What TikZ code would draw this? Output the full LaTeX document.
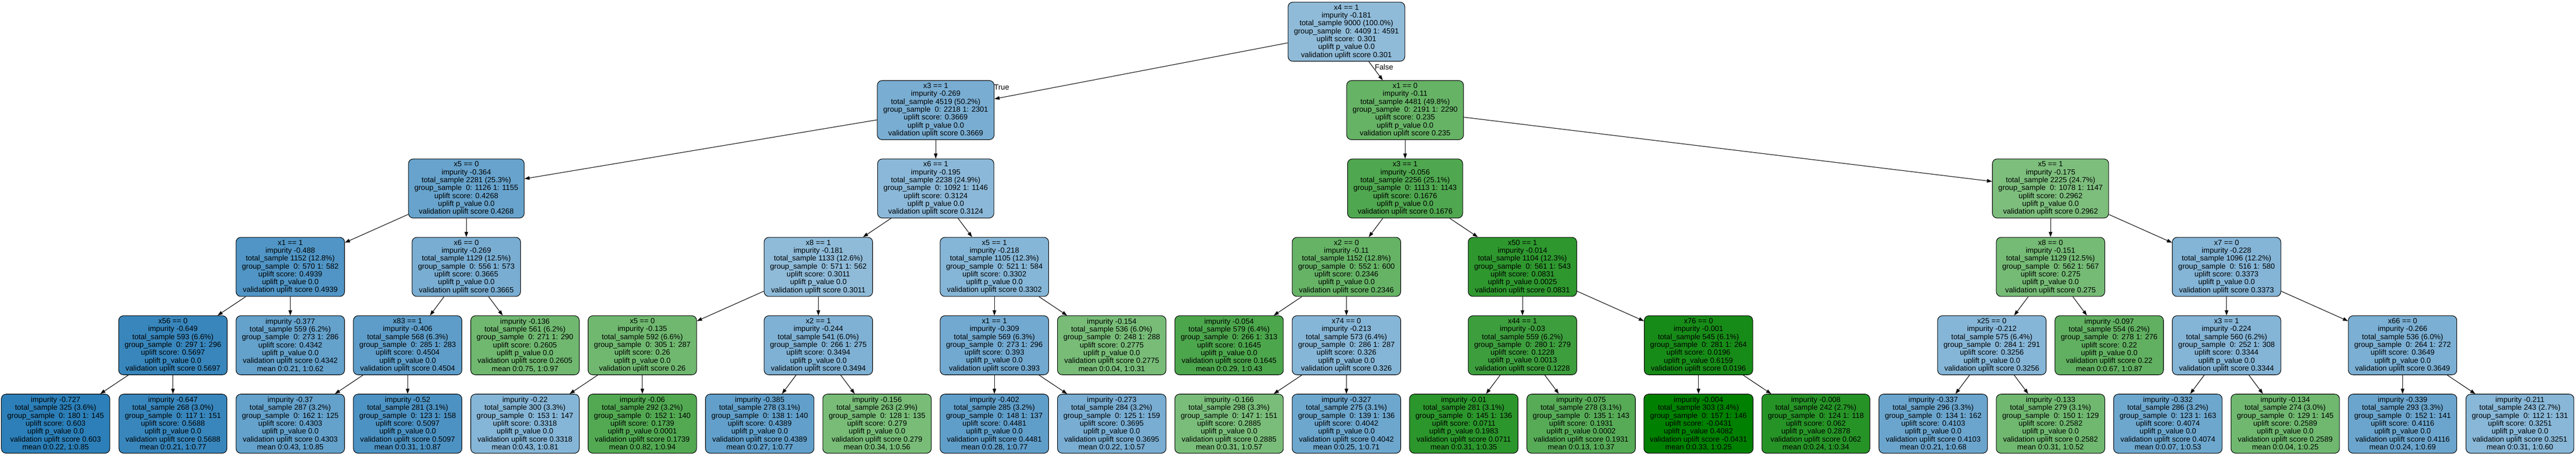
\documentclass[tikz,border=0pt]{standalone}
\usepackage{fontspec}
\setmainfont{Liberation Sans}
\usetikzlibrary{arrows.meta}
\definecolor{upblue}{HTML}{1F77B4}
\definecolor{upgreen}{HTML}{008000}
\tikzset{tnode/.style={draw, rounded corners=1.2mm, align=center, minimum width=27mm, minimum height=15mm, inner xsep=1.5mm, inner ysep=0.5mm, line width=0.4pt, font=\fontsize{5.4}{5.69}\selectfont}}
\tikzset{bl/.style={tnode, fill=upblue!#1}, gr/.style={tnode, fill=upgreen!#1}}
\tikzset{link/.style={-{Triangle[length=1.3mm,width=0.9mm]}, line width=0.4pt}}
\tikzset{lbl/.style={inner sep=0pt, font=\fontsize{5.4}{5.69}\selectfont}}
\newcommand{\splitlbl}[7]{#1\\impurity #2\\total\_sample #3\\group\_sample\ \ 0: #4 1: #5\\uplift score: #6\\uplift p\_value #7\\validation uplift score #6}
\newcommand{\leaflbl}[7]{impurity #1\\total\_sample #2\\group\_sample\ \ 0: #3 1: #4\\uplift score: #5\\uplift p\_value #6\\validation uplift score #5\\mean #7}
\begin{document}
\begin{tikzpicture}[x=29.76mm, y=-19.9mm]
\useasboundingbox (-0.4738,-0.4045) rectangle (21.478,5.3995);

% level 0 and 1
\node[bl=50] (root) at (11,0) {\splitlbl{x4 == 1}{-0.181}{9000 (100.0\%)}{4409}{4591}{0.301}{0.0}};
\node[bl=60] (nL) at (7.5,1) {\splitlbl{x3 == 1}{-0.269}{4519 (50.2\%)}{2218}{2301}{0.3669}{0.0}};
\node[gr=60] (nR) at (11.5,1) {\splitlbl{x1 == 0}{-0.11}{4481 (49.8\%)}{2191}{2290}{0.235}{0.0}};

% level 2
\node[bl=68] (nLL) at (3.5,2) {\splitlbl{x5 == 0}{-0.364}{2281 (25.3\%)}{1126}{1155}{0.4268}{0.0}};
\node[bl=52] (nLR) at (7.5,2) {\splitlbl{x6 == 1}{-0.195}{2238 (24.9\%)}{1092}{1146}{0.3124}{0.0}};
\node[gr=69] (nRL) at (11.5,2) {\splitlbl{x3 == 1}{-0.056}{2256 (25.1\%)}{1113}{1143}{0.1676}{0.0}};
\node[gr=51] (nRR) at (17,2) {\splitlbl{x5 == 1}{-0.175}{2225 (24.7\%)}{1078}{1147}{0.2962}{0.0}};

% level 3
\node[bl=78] (nLLL) at (2,3) {\splitlbl{x1 == 1}{-0.488}{1152 (12.8\%)}{570}{582}{0.4939}{0.0}};
\node[bl=60] (nLLR) at (3.5,3) {\splitlbl{x6 == 0}{-0.269}{1129 (12.5\%)}{556}{573}{0.3665}{0.0}};
\node[bl=50] (nLRL) at (6.5,3) {\splitlbl{x8 == 1}{-0.181}{1133 (12.6\%)}{571}{562}{0.3011}{0.0}};
\node[bl=54] (nLRR) at (8,3) {\splitlbl{x5 == 1}{-0.218}{1105 (12.3\%)}{521}{584}{0.3302}{0.0}};
\node[gr=60] (nRLL) at (11,3) {\splitlbl{x2 == 0}{-0.11}{1152 (12.8\%)}{552}{600}{0.2346}{0.0}};
\node[gr=82] (nRLR) at (12.5,3) {\splitlbl{x50 == 1}{-0.014}{1104 (12.3\%)}{561}{543}{0.0831}{0.0025}};
\node[gr=54] (nRRL) at (17,3) {\splitlbl{x8 == 0}{-0.151}{1129 (12.5\%)}{562}{567}{0.275}{0.0}};
\node[bl=55] (nRRR) at (18.5,3) {\splitlbl{x7 == 0}{-0.228}{1096 (12.2\%)}{516}{580}{0.3373}{0.0}};

% level 4
\node[bl=89] (nLLLL) at (1,4) {\splitlbl{x56 == 0}{-0.649}{593 (6.6\%)}{297}{296}{0.5697}{0.0}};
\node[bl=69] (nLLLR) at (2,4) {\leaflbl{-0.377}{559 (6.2\%)}{273}{286}{0.4342}{0.0}{0:0.21, 1:0.62}};
\node[bl=72] (nLLRL) at (3,4) {\splitlbl{x83 == 1}{-0.406}{568 (6.3\%)}{285}{283}{0.4504}{0.0}};
\node[gr=56] (nLLRR) at (4,4) {\leaflbl{-0.136}{561 (6.2\%)}{271}{290}{0.2605}{0.0}{0:0.75, 1:0.97}};
\node[gr=56] (nLRLL) at (5,4) {\splitlbl{x5 == 0}{-0.135}{592 (6.6\%)}{305}{287}{0.26}{0.0}};
\node[bl=57] (nLRLR) at (6.5,4) {\splitlbl{x2 == 1}{-0.244}{541 (6.0\%)}{266}{275}{0.3494}{0.0}};
\node[bl=63] (nLRRL) at (8,4) {\splitlbl{x1 == 1}{-0.309}{569 (6.3\%)}{273}{296}{0.393}{0.0}};
\node[gr=53] (nLRRR) at (9,4) {\leaflbl{-0.154}{536 (6.0\%)}{248}{288}{0.2775}{0.0}{0:0.04, 1:0.31}};
\node[gr=70] (nRLLL) at (10,4) {\leaflbl{-0.054}{579 (6.4\%)}{266}{313}{0.1645}{0.0}{0:0.29, 1:0.43}};
\node[bl=54] (nRLLR) at (11,4) {\splitlbl{x74 == 0}{-0.213}{573 (6.4\%)}{286}{287}{0.326}{0.0}};
\node[gr=76] (nRLRL) at (12.5,4) {\splitlbl{x44 == 1}{-0.03}{559 (6.2\%)}{280}{279}{0.1228}{0.0013}};
\node[gr=91] (nRLRR) at (14,4) {\splitlbl{x76 == 0}{-0.001}{545 (6.1\%)}{281}{264}{0.0196}{0.6159}};
\node[bl=54] (nRRLL) at (16.5,4) {\splitlbl{x25 == 0}{-0.212}{575 (6.4\%)}{284}{291}{0.3256}{0.0}};
\node[gr=62] (nRRLR) at (17.5,4) {\leaflbl{-0.097}{554 (6.2\%)}{278}{276}{0.22}{0.0}{0:0.67, 1:0.87}};
\node[bl=55] (nRRRL) at (18.5,4) {\splitlbl{x3 == 1}{-0.224}{560 (6.2\%)}{252}{308}{0.3344}{0.0}};
\node[bl=59] (nRRRR) at (20,4) {\splitlbl{x66 == 0}{-0.266}{536 (6.0\%)}{264}{272}{0.3649}{0.0}};

% level 5, leaves
\node[bl=94] (nLLLLL) at (0,5) {\leaflbl{-0.727}{325 (3.6\%)}{180}{145}{0.603}{0.0}{0:0.22, 1:0.85}};
\node[bl=89] (nLLLLR) at (1,5) {\leaflbl{-0.647}{268 (3.0\%)}{117}{151}{0.5688}{0.0}{0:0.21, 1:0.77}};
\node[bl=69] (nLLRLL) at (2,5) {\leaflbl{-0.37}{287 (3.2\%)}{162}{125}{0.4303}{0.0}{0:0.43, 1:0.85}};
\node[bl=80] (nLLRLR) at (3,5) {\leaflbl{-0.52}{281 (3.1\%)}{123}{158}{0.5097}{0.0}{0:0.31, 1:0.87}};
\node[bl=54] (nLRLLL) at (4,5) {\leaflbl{-0.22}{300 (3.3\%)}{153}{147}{0.3318}{0.0}{0:0.43, 1:0.81}};
\node[gr=68] (nLRLLR) at (5,5) {\leaflbl{-0.06}{292 (3.2\%)}{152}{140}{0.1739}{0.0001}{0:0.82, 1:0.94}};
\node[bl=70] (nLRLRL) at (6,5) {\leaflbl{-0.385}{278 (3.1\%)}{138}{140}{0.4389}{0.0}{0:0.27, 1:0.77}};
\node[gr=53] (nLRLRR) at (7,5) {\leaflbl{-0.156}{263 (2.9\%)}{128}{135}{0.279}{0.0}{0:0.34, 1:0.56}};
\node[bl=71] (nLRRLL) at (8,5) {\leaflbl{-0.402}{285 (3.2\%)}{148}{137}{0.4481}{0.0}{0:0.28, 1:0.77}};
\node[bl=60] (nLRRLR) at (9,5) {\leaflbl{-0.273}{284 (3.2\%)}{125}{159}{0.3695}{0.0}{0:0.22, 1:0.57}};
\node[gr=52] (nRLLRL) at (10,5) {\leaflbl{-0.166}{298 (3.3\%)}{147}{151}{0.2885}{0.0}{0:0.31, 1:0.57}};
\node[bl=65] (nRLLRR) at (11,5) {\leaflbl{-0.327}{275 (3.1\%)}{139}{136}{0.4042}{0.0}{0:0.25, 1:0.71}};
\node[gr=83] (nRLRLL) at (12,5) {\leaflbl{-0.01}{281 (3.1\%)}{145}{136}{0.0711}{0.1983}{0:0.31, 1:0.35}};
\node[gr=66] (nRLRLR) at (13,5) {\leaflbl{-0.075}{278 (3.1\%)}{135}{143}{0.1931}{0.0002}{0:0.13, 1:0.37}};
\node[gr=100] (nRLRRL) at (14,5) {\leaflbl{-0.004}{303 (3.4\%)}{157}{146}{-0.0431}{0.4082}{0:0.33, 1:0.25}};
\node[gr=85] (nRLRRR) at (15,5) {\leaflbl{-0.008}{242 (2.7\%)}{124}{118}{0.062}{0.2878}{0:0.24, 1:0.34}};
\node[bl=66] (nRRLLL) at (16,5) {\leaflbl{-0.337}{296 (3.3\%)}{134}{162}{0.4103}{0.0}{0:0.21, 1:0.68}};
\node[gr=56] (nRRLLR) at (17,5) {\leaflbl{-0.133}{279 (3.1\%)}{150}{129}{0.2582}{0.0}{0:0.31, 1:0.52}};
\node[bl=65] (nRRRLL) at (18,5) {\leaflbl{-0.332}{286 (3.2\%)}{123}{163}{0.4074}{0.0}{0:0.07, 1:0.53}};
\node[gr=56] (nRRRLR) at (19,5) {\leaflbl{-0.134}{274 (3.0\%)}{129}{145}{0.2589}{0.0}{0:0.04, 1:0.25}};
\node[bl=66] (nRRRRL) at (20,5) {\leaflbl{-0.339}{293 (3.3\%)}{152}{141}{0.4116}{0.0}{0:0.24, 1:0.69}};
\node[bl=53] (nRRRRR) at (21,5) {\leaflbl{-0.211}{243 (2.7\%)}{112}{131}{0.3251}{0.0}{0:0.31, 1:0.60}};

% edge labels
\node[lbl, anchor=west] (ltrue) at (7.995,0.71) {True};
\node[lbl, anchor=west] (lfalse) at (11.24,0.45) {False};

\draw[link] (root) -- (nL);
\draw[link] (root) -- (nR);

\draw[link] (nL) -- (nLL);
\draw[link] (nL) -- (nLR);
\draw[link] (nR) -- (nRL);
\draw[link] (nR) -- (nRR);

\draw[link] (nLL) -- (nLLL);
\draw[link] (nLL) -- (nLLR);
\draw[link] (nLR) -- (nLRL);
\draw[link] (nLR) -- (nLRR);
\draw[link] (nRL) -- (nRLL);
\draw[link] (nRL) -- (nRLR);
\draw[link] (nRR) -- (nRRL);
\draw[link] (nRR) -- (nRRR);

\draw[link] (nLLL) -- (nLLLL);
\draw[link] (nLLL) -- (nLLLR);
\draw[link] (nLLR) -- (nLLRL);
\draw[link] (nLLR) -- (nLLRR);
\draw[link] (nLRL) -- (nLRLL);
\draw[link] (nLRL) -- (nLRLR);
\draw[link] (nLRR) -- (nLRRL);
\draw[link] (nLRR) -- (nLRRR);
\draw[link] (nRLL) -- (nRLLL);
\draw[link] (nRLL) -- (nRLLR);
\draw[link] (nRLR) -- (nRLRL);
\draw[link] (nRLR) -- (nRLRR);
\draw[link] (nRRL) -- (nRRLL);
\draw[link] (nRRL) -- (nRRLR);
\draw[link] (nRRR) -- (nRRRL);
\draw[link] (nRRR) -- (nRRRR);

\draw[link] (nLLLL) -- (nLLLLL);
\draw[link] (nLLLL) -- (nLLLLR);
\draw[link] (nLLRL) -- (nLLRLL);
\draw[link] (nLLRL) -- (nLLRLR);
\draw[link] (nLRLL) -- (nLRLLL);
\draw[link] (nLRLL) -- (nLRLLR);
\draw[link] (nLRLR) -- (nLRLRL);
\draw[link] (nLRLR) -- (nLRLRR);
\draw[link] (nLRRL) -- (nLRRLL);
\draw[link] (nLRRL) -- (nLRRLR);
\draw[link] (nRLLR) -- (nRLLRL);
\draw[link] (nRLLR) -- (nRLLRR);
\draw[link] (nRLRL) -- (nRLRLL);
\draw[link] (nRLRL) -- (nRLRLR);
\draw[link] (nRLRR) -- (nRLRRL);
\draw[link] (nRLRR) -- (nRLRRR);
\draw[link] (nRRLL) -- (nRRLLL);
\draw[link] (nRRLL) -- (nRRLLR);
\draw[link] (nRRRL) -- (nRRRLL);
\draw[link] (nRRRL) -- (nRRRLR);
\draw[link] (nRRRR) -- (nRRRRL);
\draw[link] (nRRRR) -- (nRRRRR);

\end{tikzpicture}
\end{document}
